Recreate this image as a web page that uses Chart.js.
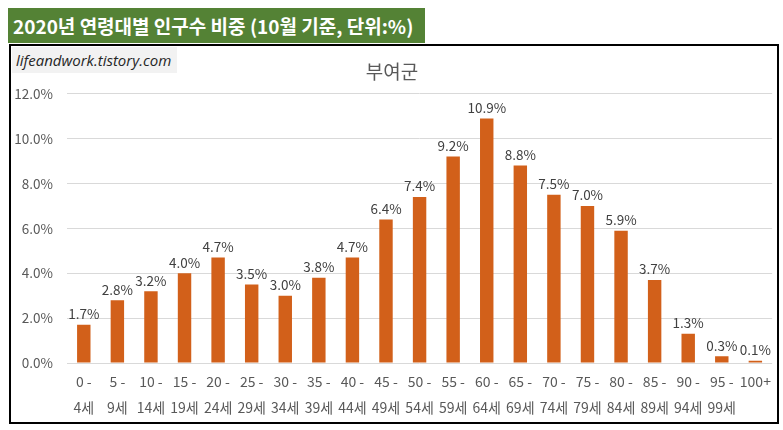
<!DOCTYPE html>
<html>
<head>
<meta charset="utf-8">
<script src="https://cdn.jsdelivr.net/npm/chart.js@4"></script>
<style>
  body { margin: 0; background: #fff; width: 783px; height: 430px; position: relative; overflow: hidden; }
  #head { position: absolute; left: 8px; top: 8px; width: 417px; height: 35px; background: #548235;
          color: #fff; font: bold 19px "Noto Sans CJK KR", "Noto Sans", sans-serif; line-height: 35px;
          padding-left: 5px; box-sizing: border-box; white-space: nowrap; }
  #box { position: absolute; left: 9px; top: 44px; width: 770px; height: 380px; border: 2px solid #000; box-sizing: border-box; }
  #mark { position: absolute; left: 12px; top: 47px; width: 165px; height: 26px; background: #f2f2f2;
          color: #262626; font: italic 15px "Open Sans", "DejaVu Sans", sans-serif; line-height: 26px;
          padding-left: 4px; box-sizing: border-box; z-index: 2; white-space: nowrap; }
</style>
</head>
<body>
<div id="head">2020년 연령대별 인구수 비중 (10월 기준, 단위:%)</div>
<div id="box"><canvas id="c"></canvas></div>
<div id="mark">lifeandwork.tistory.com</div>
<script>
var ageGroups = [
  ['0 -', '4세'], ['5 -', '9세'], ['10 -', '14세'], ['15 -', '19세'], ['20 -', '24세'],
  ['25 -', '29세'], ['30 -', '34세'], ['35 -', '39세'], ['40 -', '44세'], ['45 -', '49세'],
  ['50 -', '54세'], ['55 -', '59세'], ['60 -', '64세'], ['65 -', '69세'], ['70 -', '74세'],
  ['75 -', '79세'], ['80 -', '84세'], ['85 -', '89세'], ['90 -', '94세'], ['95 -', '99세'], '100+'
];
var shares = [1.7, 2.8, 3.2, 4.0, 4.7, 3.5, 3.0, 3.8, 4.7, 6.4, 7.4, 9.2, 10.9, 8.8, 7.5, 7.0, 5.9, 3.7, 1.3, 0.3, 0.1];
var yTicks = [0, 2, 4, 6, 8, 10, 12];

var font = '"Noto Sans CJK KR", "Noto Sans", sans-serif';

// value labels above each bar
var barLabels = {
  id: 'barLabels',
  afterDatasetsDraw: function(chart) {
    var ctx = chart.ctx;
    var meta = chart.getDatasetMeta(0);
    ctx.save();
    ctx.font = '13.5px ' + font;
    ctx.fillStyle = '#404040';
    ctx.textAlign = 'center';
    ctx.textBaseline = 'bottom';
    meta.data.forEach(function(bar, i) {
      ctx.fillText(shares[i].toFixed(1) + '%', bar.x, bar.y - 4);
    });
    ctx.restore();
  }
};

var canvas = document.getElementById('c');
canvas.width = 766; canvas.height = 376;
canvas.style.width = '766px'; canvas.style.height = '376px';

new Chart(canvas, {
  type: 'bar',
  data: {
    labels: ageGroups,
    datasets: [{
      data: shares,
      backgroundColor: '#D2601A',
      barPercentage: 0.4,
      categoryPercentage: 1
    }]
  },
  options: {
    responsive: false,
    animation: false,
    layout: { padding: { top: 0, right: 4, left: 0, bottom: 0 } },
    plugins: {
      legend: { display: false },
      tooltip: { enabled: false },
      title: {
        display: true,
        text: '부여군',
        color: '#595959',
        font: { family: font, size: 19, weight: 'normal' },
        padding: { top: 14, bottom: 11 }
      }
    },
    scales: {
      x: {
        grid: { display: false, drawTicks: false },
        border: { display: false },
        ticks: {
          color: '#595959',
          font: { family: font, size: 14, lineHeight: 1.85 },
          padding: 6,
          maxRotation: 0,
          autoSkip: false
        },
        afterFit: function(s) { s.height = 59; }
      },
      y: {
        min: 0,
        max: 12,
        afterBuildTicks: function(s) { s.ticks = yTicks.map(function(v) { return { value: v }; }); },
        grid: { color: '#d9d9d9', drawTicks: false },
        border: { display: false },
        ticks: {
          color: '#595959',
          font: { family: font, size: 13.5 },
          padding: 14,
          callback: function(v) { return v.toFixed(1) + '%'; }
        },
        afterFit: function(s) { s.width = 56; }
      }
    }
  },
  plugins: [barLabels]
});
</script>
</body>
</html>
